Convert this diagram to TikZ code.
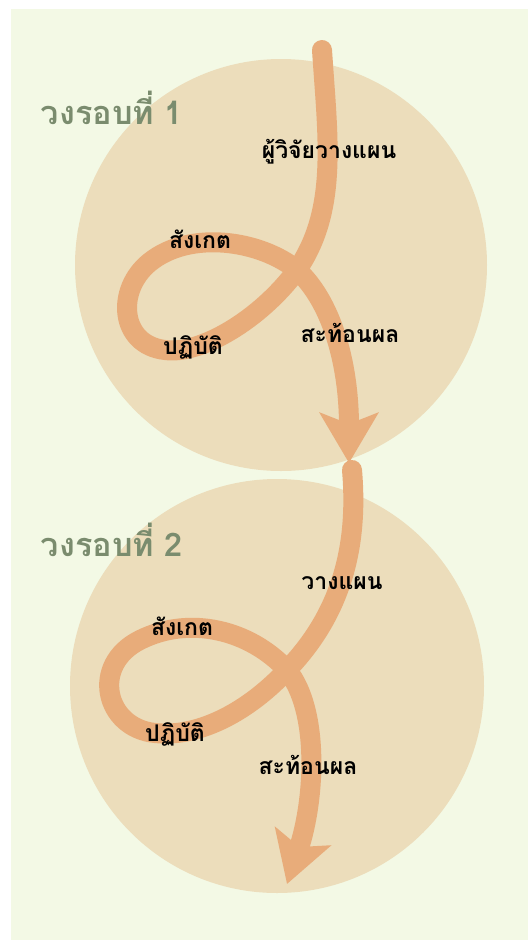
\documentclass[tikz,border=0pt]{standalone}
\usepackage{fontspec}
\usepackage{xcolor}
\usetikzlibrary{arrows.meta}
\newfontfamily\thaifont[Script=Thai]{Loma}
\definecolor{cyclePanel}{RGB}{243,249,229}
\definecolor{cycleDisc}{RGB}{236,221,187}
\definecolor{cycleOrange}{RGB}{232,172,122}
\definecolor{cycleTitle}{RGB}{122,140,110}

\begin{document}
\begin{tikzpicture}[x=1pt,y=-1pt,
    spiral/.style={cycleOrange, line width=20pt, line cap=round,
        -{Stealth[length=50pt,width=58pt,inset=11pt]}},
    steplabel/.style={font=\thaifont\bfseries\fontsize{23}{25}\selectfont,
        anchor=base, inner sep=0pt},
    roundtitle/.style={font=\thaifont\bfseries\fontsize{32.5}{35}\selectfont,
        text=cycleTitle, anchor=base, inner sep=0pt}]
    \useasboundingbox (0,0) rectangle (528,940);

    % background panel
    \fill[white] (0,0) rectangle (528,940);
    \fill[cyclePanel] (11,9) rectangle (528,940);

    % discs
    \fill[cycleDisc] (281,265) circle (206);
    \fill[cycleDisc] (277,686) circle (207);

    % points of the first loop
    \coordinate (startA) at (322,50);
    \coordinate (crossA) at (297,270);
    \coordinate (lowA) at (165,350);
    \coordinate (leftA) at (150,262);
    \coordinate (tipA) at (349,463);

    % first loop
    \draw[spiral] (startA) .. controls (328,140) and (338,210) .. (crossA)
        .. controls (260,320) and (200,355) .. (lowA)
        .. controls (120,345) and (115,290) .. (leftA)
        .. controls (190,230) and (260,240) .. (crossA)
        .. controls (330,300) and (349,360) .. (tipA);

    % points of the second loop
    \coordinate (startB) at (352,470);
    \coordinate (crossB) at (287,670);
    \coordinate (lowB) at (155,733);
    \coordinate (leftB) at (140,640);
    \coordinate (tipB) at (287,884);

    % second loop
    \draw[spiral] (startB) .. controls (358,540) and (345,610) .. (crossB)
        .. controls (250,710) and (200,738) .. (lowB)
        .. controls (105,728) and (90,665) .. (leftB)
        .. controls (190,615) and (250,630) .. (crossB)
        .. controls (320,710) and (315,800) .. (tipB);

    % round titles
    \node[roundtitle] (titleA) at (112,124) {วงรอบที่ 1};
    \node[roundtitle] (titleB) at (112,556) {วงรอบที่ 2};

    % steps, first round
    \node[steplabel] (planA) at (329,158) {ผู้วิจัยวางแผน};
    \node[steplabel] (observeA) at (200,248) {สังเกต};
    \node[steplabel] (actA) at (193,354) {ปฏิบัติ};
    \node[steplabel] (reflectA) at (350,342) {สะท้อนผล};

    % steps, second round
    \node[steplabel] (planB) at (342,589) {วางแผน};
    \node[steplabel] (observeB) at (182,635) {สังเกต};
    \node[steplabel] (actB) at (175,741) {ปฏิบัติ};
    \node[steplabel] (reflectB) at (308,774) {สะท้อนผล};
\end{tikzpicture}
\end{document}
